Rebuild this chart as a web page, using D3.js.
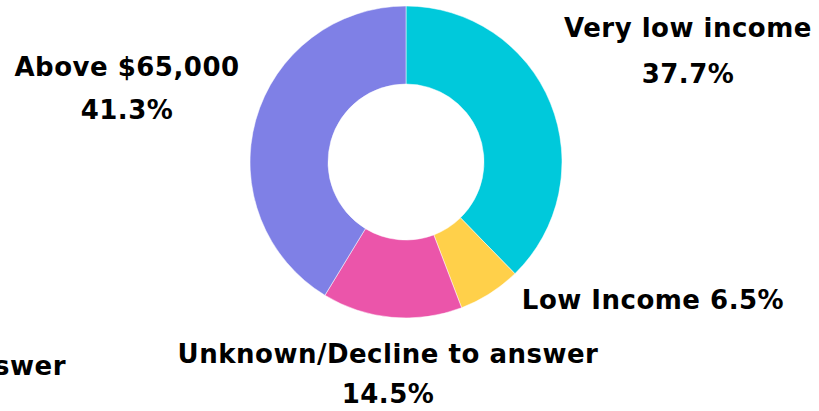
<!DOCTYPE html>
<html>
<head>
<meta charset="utf-8">
<script src="https://cdn.jsdelivr.net/npm/d3@7"></script>
<style>
  html, body { margin: 0; padding: 0; background: #fff; }
  svg { display: block; }
</style>
</head>
<body>
<div id="chart"></div>
<script>
// data
const categories = ['Very low income', 'Low Income', 'Unknown/Decline to answer', 'Above $65,000'];
const shares = [37.7, 6.5, 14.5, 41.3];
const colors = ['#00C9DB', '#FFD04A', '#EB55AA', '#7F80E6'];

const width = 819;
const height = 411;
const cx = 406;
const cy = 162;
const outerR = 156;
const innerR = 78;
const fontSize = 26;

// label layout: centre x, baselines of name and percent (null = one line)
const labelLayout = [
  { x: 688, y: 37, y2: 83 },
  { x: 653, y: 309, y2: null },
  { x: 388, y: 363, y2: 403 },
  { x: 127, y: 76, y2: 119 },
];

const svg = d3.select('#chart').append('svg')
  .attr('width', width)
  .attr('height', height);

const pie = d3.pie()
  .sort(null)
  .value(d => d);

const arc = d3.arc()
  .innerRadius(innerR)
  .outerRadius(outerR);

const g = svg.append('g')
  .attr('transform', `translate(${cx},${cy})`);

g.selectAll('path')
  .data(pie(shares))
  .join('path')
  .attr('d', arc)
  .attr('fill', (d, i) => colors[i])
  .attr('stroke', '#fff')
  .attr('stroke-width', 0.5);

const labels = svg.append('g')
  .style('font-family', '"DejaVu Sans", sans-serif')
  .style('font-weight', 'bold')
  .style('font-size', `${fontSize}px`)
  .style('letter-spacing', '0.5px')
  .attr('fill', '#000')
  .attr('text-anchor', 'middle');

categories.forEach((c, i) => {
  const pos = labelLayout[i];
  const pct = `${shares[i].toFixed(1)}%`;
  if (pos.y2 !== null) {
    labels.append('text').attr('x', pos.x).attr('y', pos.y).text(c);
    labels.append('text').attr('x', pos.x).attr('y', pos.y2).text(pct);
  } else {
    labels.append('text').attr('x', pos.x).attr('y', pos.y).text(`${c} ${pct}`);
  }
});

// clipped duplicate of a label at the left edge
labels.append('text')
  .attr('x', 66)
  .attr('y', 375)
  .attr('text-anchor', 'end')
  .text(categories[2]);
</script>
</body>
</html>
